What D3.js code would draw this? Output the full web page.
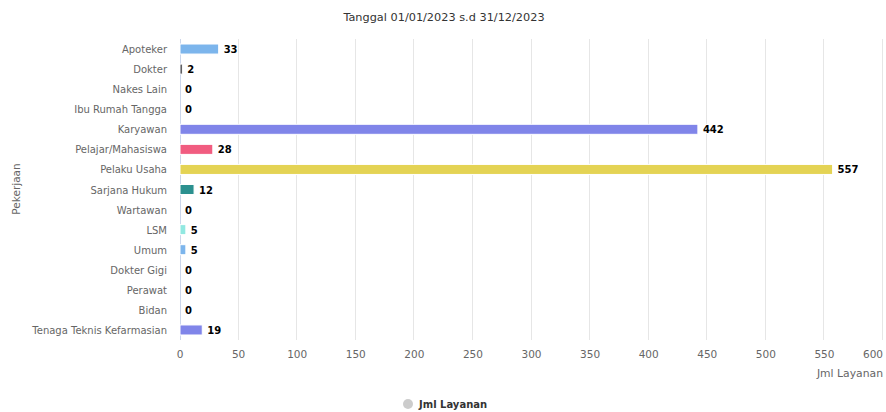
<!DOCTYPE html>
<html>
<head>
<meta charset="utf-8">
<script src="https://cdn.jsdelivr.net/npm/d3@7"></script>
<style>
  body { margin: 0; background: #fff; }
  text { font-family: "DejaVu Sans", sans-serif; }
</style>
</head>
<body>
<script>
// data
const categories = ["Apoteker", "Dokter", "Nakes Lain", "Ibu Rumah Tangga", "Karyawan",
  "Pelajar/Mahasiswa", "Pelaku Usaha", "Sarjana Hukum", "Wartawan", "LSM", "Umum",
  "Dokter Gigi", "Perawat", "Bidan", "Tenaga Teknis Kefarmasian"];
const values = [33, 2, 0, 0, 442, 28, 557, 12, 0, 5, 5, 0, 0, 0, 19];
const xTicks = [0, 50, 100, 150, 200, 250, 300, 350, 400, 450, 500, 550, 600];
const palette = ["#7cb5ec", "#434348", "#90ed7d", "#f7a35c", "#8085e9", "#f15c80",
  "#e4d354", "#2b908f", "#f45b5b", "#91e8e1"];

const W = 886, H = 412;
const svg = d3.select("body").append("svg")
  .attr("width", W)
  .attr("height", H)

const x = d3.scaleLinear().domain([0, 600]).range([180, 883]);
const y = d3.scaleBand().domain(categories).range([39, 340]).paddingInner(0.5).paddingOuter(0.25);

// title
svg.append("text")
  .attr("x", 444).attr("y", 21)
  .attr("text-anchor", "middle")
  .style("font-size", "11.3px").style("fill", "#333")
  .text("Tanggal 01/01/2023 s.d 31/12/2023");

// grid
svg.append("g").selectAll("line")
  .data(xTicks.slice(1))
  .enter().append("line")
  .attr("x1", d => Math.round(x(d)) - 0.5).attr("x2", d => Math.round(x(d)) - 0.5)
  .attr("y1", 39).attr("y2", 340)
  .attr("stroke", "#e6e6e6");

// x axis labels (last one kept inside the chart like the original)
svg.append("g").selectAll("text")
  .data(xTicks)
  .enter().append("text")
  .attr("x", d => d === 600 ? 883 : x(d)).attr("y", 358)
  .attr("text-anchor", d => d === 600 ? "end" : "middle")
  .style("font-size", "10.5px").style("fill", "#666")
  .text(d => d);

svg.append("text")
  .attr("x", 883).attr("y", 377)
  .attr("text-anchor", "end")
  .style("font-size", "10.8px").style("fill", "#666")
  .text("Jml Layanan");

// y axis line + labels
svg.append("line")
  .attr("x1", 180.5).attr("x2", 180.5).attr("y1", 39).attr("y2", 340)
  .attr("stroke", "#ccd6eb");

svg.append("g").selectAll("text")
  .data(categories)
  .enter().append("text")
  .attr("x", 167).attr("y", d => y(d) + y.bandwidth() / 2 + 4)
  .attr("text-anchor", "end")
  .style("font-size", "10px").style("fill", "#666")
  .text(d => d);

svg.append("text")
  .attr("transform", "translate(20,189) rotate(-90)")
  .attr("text-anchor", "middle")
  .style("font-size", "10.5px").style("fill", "#666")
  .text("Pekerjaan");

// bars
svg.append("g").selectAll("rect")
  .data(values)
  .enter().append("rect")
  .attr("x", x(0))
  .attr("y", (d, i) => y(categories[i]))
  .attr("width", d => x(d) - x(0))
  .attr("height", y.bandwidth())
  .attr("fill", (d, i) => palette[i % palette.length])
  .attr("stroke", "#fff").attr("stroke-width", 1);

// data labels
svg.append("g").selectAll("text")
  .data(values)
  .enter().append("text")
  .attr("x", d => x(d) + 5)
  .attr("y", (d, i) => y(categories[i]) + y.bandwidth() / 2 + 4)
  .style("font-size", "10px").style("font-weight", "bold").style("fill", "#000")
  .style("paint-order", "stroke").style("stroke", "#fff").style("stroke-width", "2px")
  .text(d => d);

// legend
svg.append("circle")
  .attr("cx", 408).attr("cy", 404).attr("r", 5)
  .attr("fill", "#ccc");
svg.append("text")
  .attr("x", 419).attr("y", 408)
  .style("font-size", "10px").style("font-weight", "bold").style("fill", "#333")
  .text("Jml Layanan");
</script>
</body>
</html>
